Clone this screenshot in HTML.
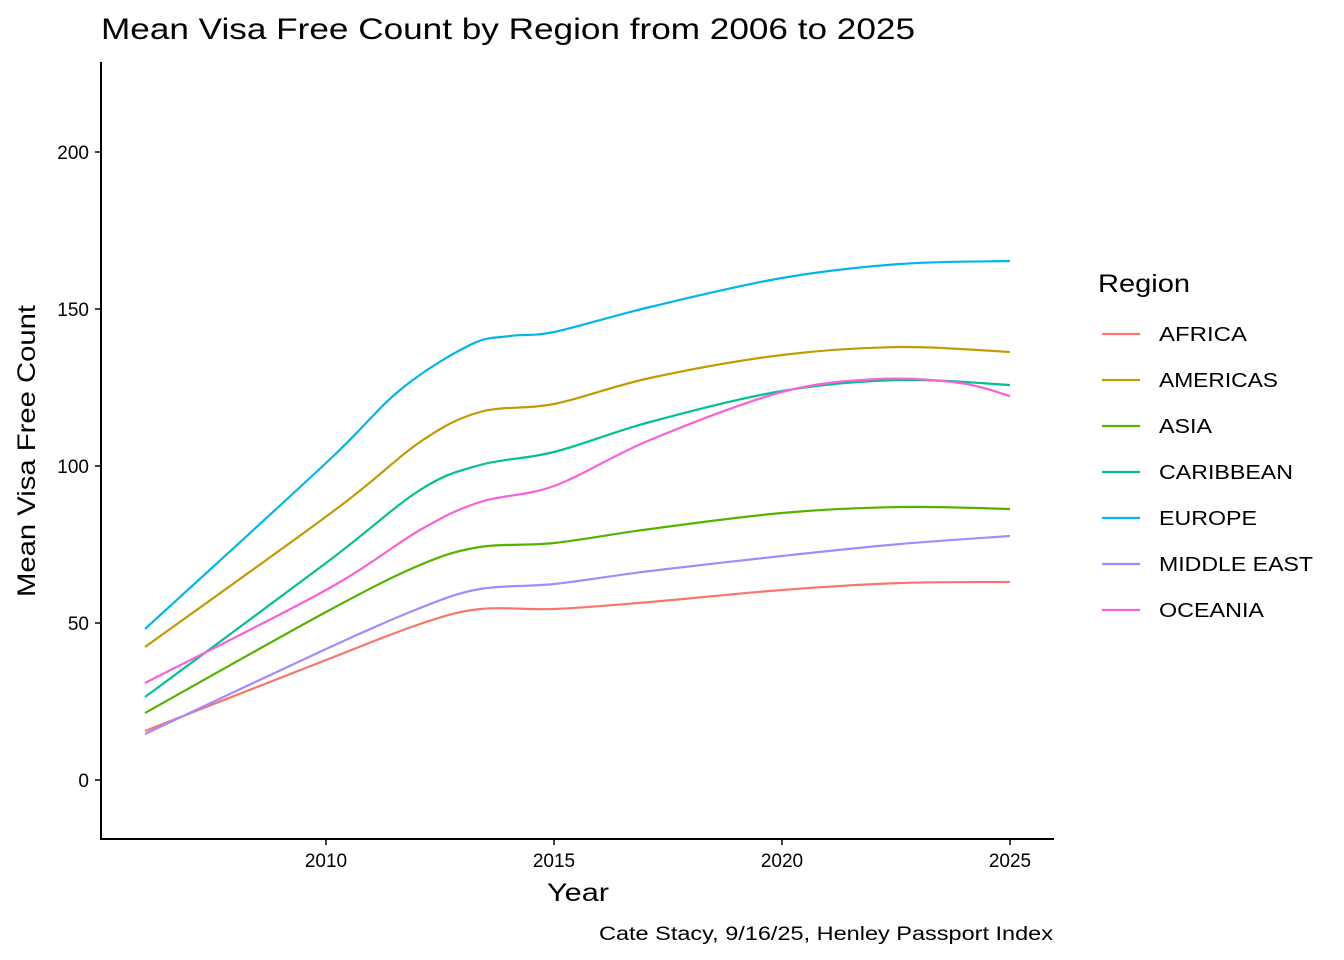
<!DOCTYPE html>
<html><head><meta charset="utf-8"><style>body{margin:0;background:#fff}svg{display:block}text{font-family:"Liberation Sans",Arial,sans-serif}</style></head>
<body>
<svg id="s" width="1344" height="960" xmlns="http://www.w3.org/2000/svg">
<rect width="1344" height="960" fill="#fff"/>
<text x="101" y="39" font-size="30" fill="#000" textLength="814" lengthAdjust="spacingAndGlyphs">Mean Visa Free Count by Region from 2006 to 2025</text>
<line x1="101" y1="62" x2="101" y2="840" stroke="#000" stroke-width="2"/>
<line x1="100" y1="839" x2="1054" y2="839" stroke="#000" stroke-width="2"/>
<g font-size="19" fill="#000" text-anchor="end">
<text x="89" y="159">200</text><text x="89" y="316">150</text><text x="89" y="473">100</text><text x="89" y="630">50</text><text x="89" y="787">0</text>
</g>
<g stroke="#000" stroke-width="1.5">
<line x1="95" y1="152" x2="101" y2="152"/><line x1="95" y1="309" x2="101" y2="309"/><line x1="95" y1="466" x2="101" y2="466"/><line x1="95" y1="623" x2="101" y2="623"/><line x1="95" y1="780" x2="101" y2="780"/>
<line x1="326" y1="839" x2="326" y2="845"/><line x1="554" y1="839" x2="554" y2="845"/><line x1="782" y1="839" x2="782" y2="845"/><line x1="1010" y1="839" x2="1010" y2="845"/>
</g>
<g font-size="19" fill="#000" text-anchor="middle">
<text x="326" y="867">2010</text><text x="554" y="867">2015</text><text x="782" y="867">2020</text><text x="1010" y="867">2025</text>
</g>
<text x="578" y="901" font-size="25" text-anchor="middle" textLength="62" lengthAdjust="spacingAndGlyphs">Year</text>
<text transform="translate(35,451) rotate(-90)" font-size="25" text-anchor="middle" textLength="292" lengthAdjust="spacingAndGlyphs">Mean Visa Free Count</text>
<text x="1053" y="940" font-size="19" text-anchor="end" textLength="454" lengthAdjust="spacingAndGlyphs">Cate Stacy, 9/16/25, Henley Passport Index</text>
<g id="lines" fill="none" stroke-width="2.2"></g>
<text x="1098" y="292" font-size="25" textLength="92" lengthAdjust="spacingAndGlyphs">Region</text>
<g font-size="20" id="leg"></g>
</svg>
<script>
var S=[
["AFRICA","#F8766D",[[145,731],[326,660],[420,624],[480,609],[554,609],[650,602],[782,590],[900,583],[1010,582]],88],
["AMERICAS","#C49A00",[[145,647],[335,510],[420,442],[480,412],[554,404],[650,378],[782,355],[900,347],[1010,352]],119],
["ASIA","#53B400",[[145,713],[326,612],[420,565],[480,547],[554,543],[650,529],[782,513],[900,507],[1010,509]],53],
["CARIBBEAN","#00C094",[[145,697],[326,563],[420,490],[480,465],[554,452],[650,422],[782,391],[900,380],[1010,385]],134],
["EUROPE","#00B6EB",[[145,629],[326,463],[400,390],[470,345],[510,336],[554,332],[650,307],[782,278],[900,264],[1010,261]],98],
["MIDDLE EAST","#A58AFF",[[145,734],[326,649],[420,608],[480,589],[554,584],[650,571],[782,556],[900,544],[1010,536]],154],
["OCEANIA","#FB61D7",[[145,683],[326,590],[420,530],[480,502],[554,486],[650,440],[782,392],[880,379],[960,383],[1010,396]],105]];
var ns="http://www.w3.org/2000/svg",L=document.getElementById("lines"),G=document.getElementById("leg");
S.forEach(function(s,i){var p=s[2],d="M"+p[0][0]+","+p[0][1];
for(var k=0;k<p.length-1;k++){var a=p[k-1]||p[k],b=p[k],c=p[k+1],e=p[k+2]||c;
d+="C"+(b[0]+(c[0]-a[0])/6)+","+(b[1]+(c[1]-a[1])/6)+" "+(c[0]-(e[0]-b[0])/6)+","+(c[1]-(e[1]-b[1])/6)+" "+c[0]+","+c[1];}
var pa=document.createElementNS(ns,"path");pa.setAttribute("d",d);pa.setAttribute("stroke",s[1]);L.appendChild(pa);
var y=334+46*i;var l=document.createElementNS(ns,"line");l.setAttribute("x1",1102);l.setAttribute("x2",1140);l.setAttribute("y1",y);l.setAttribute("y2",y);l.setAttribute("stroke",s[1]);l.setAttribute("stroke-width",2.2);G.appendChild(l);
var t=document.createElementNS(ns,"text");t.setAttribute("x",1159);t.setAttribute("y",y+7);t.setAttribute("textLength",s[3]);t.setAttribute("lengthAdjust","spacingAndGlyphs");t.textContent=s[0];G.appendChild(t);});
</script>
</body></html>
